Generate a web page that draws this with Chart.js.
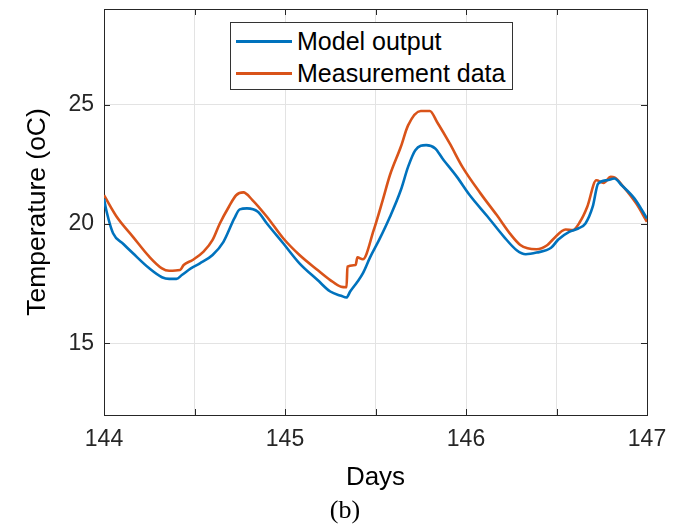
<!DOCTYPE html>
<html lang="en">
<head>
  <meta charset="UTF-8">
  <title>Temperature</title>
  <script src="https://cdn.jsdelivr.net/npm/chart.js"></script>
  <style>
    body {
      margin: 0;
      padding: 0;
      background: #fff;
    }

    #wrap {
      position: relative;
      width: 685px;
      height: 528px;
    }

    #legend {
      position: absolute;
      left: 230px;
      top: 22px;
      width: 283px;
      height: 68px;
      box-sizing: border-box;
      border: 1px solid #333;
      background: #fff;
      font-family: 'Liberation Sans', Arial, sans-serif;
      font-size: 25px;
      color: #000;
    }

    #legend .row {
      position: absolute;
      left: 5px;
      height: 30px;
      display: flex;
      align-items: center;
      white-space: nowrap;
    }

    #legend .swatch {
      display: inline-block;
      width: 56px;
      height: 3px;
      margin-right: 5px;
    }

    #caption {
      position: absolute;
      left: 0;
      width: 690px;
      top: 495px;
      line-height: 30px;
      text-align: center;
      font-family: 'Liberation Serif', 'Times New Roman', serif;
      font-size: 26px;
      color: #000;
    }
  </style>
</head>
<body>
  <div id="wrap">
    <canvas id="tempChart" width="685" height="528"></canvas>
    <div id="legend">
      <div class="row" style="top: 3px;"><span class="swatch" style="background:#0072BD"></span>Model output</div>
      <div class="row" style="top: 35px;"><span class="swatch" style="background:#D95319"></span>Measurement data</div>
    </div>
    <div id="caption">(b)</div>
  </div>

  <script>
    // values
    const modelDays = [144.00, 144.015, 144.05, 144.107, 144.16, 144.25, 144.32, 144.36, 144.40, 144.43, 144.48, 144.53,
      144.60, 144.66, 144.72, 144.75, 144.79, 144.85, 144.90, 144.99, 145.08, 145.18, 145.25, 145.31, 145.34,
      145.36, 145.40, 145.43, 145.47, 145.52, 145.58, 145.64, 145.68, 145.72, 145.78, 145.83, 145.87, 145.95,
      146.02, 146.12, 146.21, 146.28, 146.33, 146.39, 146.47, 146.51, 146.57, 146.62, 146.66, 146.70, 146.73,
      146.78, 146.82, 146.86, 146.93, 147.00];
    const modelTemp = [21.05, 20.5, 19.61, 19.16, 18.77, 18.14, 17.77, 17.70, 17.70, 17.86, 18.14, 18.35,
      18.70, 19.25, 20.23, 20.61, 20.65, 20.51, 20.02, 19.19, 18.35, 17.65, 17.17, 16.99, 16.92,
      17.17, 17.58, 17.93, 18.60, 19.33, 20.30, 21.42, 22.39, 23.09, 23.30, 23.16, 22.74, 21.97,
      21.21, 20.30, 19.46, 18.90, 18.73, 18.80, 19.00, 19.35, 19.67, 19.81, 20.02, 20.72, 21.69,
      21.83, 21.90, 21.62, 21.07, 20.23];

    const measDays = [144.00, 144.07, 144.16, 144.25, 144.32, 144.36, 144.42, 144.44, 144.49, 144.55, 144.60, 144.64,
      144.69, 144.73, 144.77, 144.82, 144.90, 144.99, 145.08, 145.18, 145.25, 145.31, 145.34, 145.345,
      145.39, 145.40, 145.43, 145.49, 145.54, 145.58, 145.64, 145.68, 145.75, 145.80, 145.84, 145.91,
      145.98, 146.08, 146.17, 146.25, 146.30, 146.34, 146.39, 146.45, 146.48, 146.55, 146.59, 146.63,
      146.67, 146.72, 146.76, 146.80, 146.82, 146.87, 146.94, 147.00];
    const measTemp = [21.20, 20.30, 19.46, 18.63, 18.14, 18.04, 18.07, 18.28, 18.49, 18.84, 19.33, 20.02,
      20.72, 21.20, 21.32, 21.00, 20.30, 19.40, 18.70, 18.07, 17.65, 17.37, 17.35, 18.21,
      18.28, 18.60, 18.52, 19.74, 21.00, 22.05, 23.23, 24.13, 24.73, 24.73, 24.27, 23.37,
      22.39, 21.28, 20.37, 19.53, 19.12, 18.98, 18.94, 19.12, 19.35, 19.77, 19.74, 20.09,
      20.72, 21.83, 21.72, 21.97, 21.95, 21.55, 20.86, 20.09];

    const xTickLabels = [144, 145, 146, 147];
    const yTicks = [15, 20, 25];

    const axisColor = '#262626';
    const gridColor = '#e3e3e3';
    const font = 'Liberation Sans';

    const toPoints = (xs, ys) => xs.map((x, i) => ({ x: x, y: ys[i] }));

    // MATLAB style ticks pointing into the plot on all four sides
    const inwardTicks = {
      id: 'inwardTicks',
      afterDraw(chart) {
        const { ctx, chartArea: a, scales } = chart;
        const len = 6;
        ctx.save();
        ctx.strokeStyle = axisColor;
        ctx.lineWidth = 1;
        ctx.beginPath();
        scales.x.ticks.forEach((t) => {
          const px = Math.round(scales.x.getPixelForValue(t.value)) + 0.5;
          ctx.moveTo(px, a.bottom); ctx.lineTo(px, a.bottom - len);
          ctx.moveTo(px, a.top); ctx.lineTo(px, a.top + len);
        });
        scales.y.ticks.forEach((t) => {
          const py = Math.round(scales.y.getPixelForValue(t.value)) + 0.5;
          ctx.moveTo(a.left, py); ctx.lineTo(a.left + len, py);
          ctx.moveTo(a.right, py); ctx.lineTo(a.right - len, py);
        });
        ctx.stroke();
        ctx.restore();
      }
    };

    // keep the plot box fixed, no extra room for edge labels
    const noEdgePadding = (s) => {
      s.paddingTop = 0;
      s.paddingBottom = 0;
      s.paddingLeft = 0;
      s.paddingRight = 0;
    };

    const ctx = document.getElementById('tempChart').getContext('2d');
    const tempChart = new Chart(ctx, {
      type: 'line',
      data: {
        datasets: [
          { label: 'Model output', data: toPoints(modelDays, modelTemp), borderColor: '#0072BD', borderWidth: 2.6,
            pointRadius: 0, cubicInterpolationMode: 'monotone' },
          { label: 'Measurement data', data: toPoints(measDays, measTemp), borderColor: '#D95319', borderWidth: 2.6,
            pointRadius: 0, cubicInterpolationMode: 'monotone' }
        ]
      },
      options: {
        responsive: false,
        animation: false,
        layout: { padding: 0 },
        plugins: {
          legend: { display: false },
          tooltip: { enabled: false }
        },
        scales: {
          x: {
            type: 'linear',
            position: 'bottom',
            min: 144,
            max: 147,
            ticks: {
              stepSize: 0.5,
              padding: 11,
              color: axisColor,
              font: { family: font, size: 23 },
              maxRotation: 0,
              autoSkip: false,
              callback: (v) => (xTickLabels.includes(v) ? String(v) : '')
            },
            grid: { color: gridColor, drawTicks: false },
            border: { color: axisColor, width: 1 },
            title: { display: true, text: 'Days', color: '#000', font: { family: font, size: 26 }, padding: { bottom: 35 } },
            afterFit: (s) => { s.height = 113; noEdgePadding(s); }
          },
          x2: {
            type: 'linear',
            position: 'top',
            min: 144,
            max: 147,
            ticks: { display: false },
            grid: { drawOnChartArea: false, drawTicks: false },
            border: { color: axisColor, width: 1 },
            afterFit: (s) => { s.height = 9; noEdgePadding(s); }
          },
          y: {
            min: 12,
            max: 29,
            afterBuildTicks: (s) => { s.ticks = yTicks.map((v) => ({ value: v })); },
            ticks: { padding: 10, color: axisColor, font: { family: font, size: 23 } },
            grid: { color: gridColor, drawTicks: false },
            border: { color: axisColor, width: 1 },
            title: { display: true, text: 'Temperature (oC)', color: '#000', font: { family: font, size: 26.5 }, padding: { top: 22 } },
            afterFit: (s) => { s.width = 104; noEdgePadding(s); }
          },
          y2: {
            position: 'right',
            min: 12,
            max: 29,
            ticks: { display: false },
            grid: { drawOnChartArea: false, drawTicks: false },
            border: { color: axisColor, width: 1 },
            afterFit: (s) => { s.width = 38; noEdgePadding(s); }
          }
        }
      },
      plugins: [inwardTicks]
    });
  </script>
</body>
</html>
